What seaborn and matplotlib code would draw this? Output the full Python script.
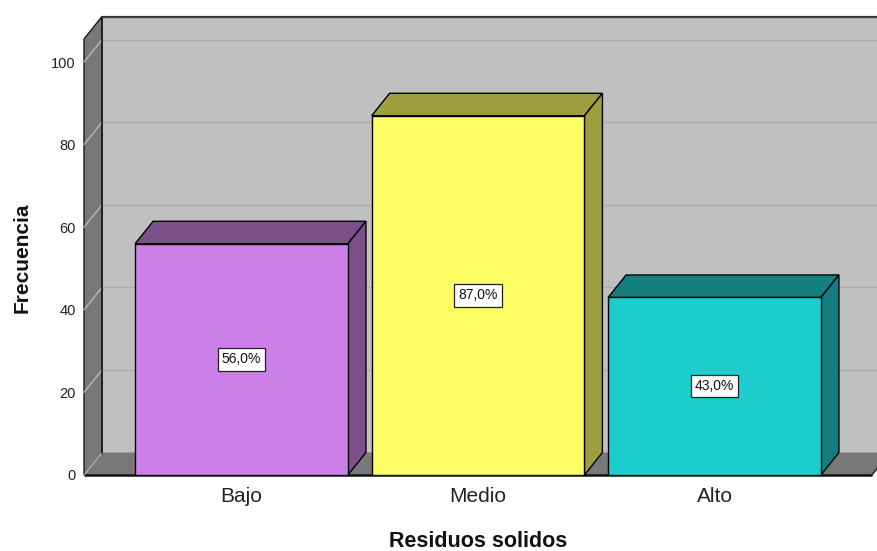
import matplotlib
matplotlib.use("Agg")
import matplotlib.pyplot as plt
from matplotlib.patches import Polygon
import seaborn as sns
import pandas as pd

# Data
categories = ["Bajo", "Medio", "Alto"]
counts = [56, 87, 43]
y_ticks = [0, 20, 40, 60, 80, 100]

# Colours: front face and shaded (top / side) face of each bar
front_colors = ["#CC7FE6", "#FFFF66", "#1DCDCD"]
shade_colors = ["#7C4F8B", "#9E9E3E", "#137F7F"]

sns.set_theme(style="white")
plt.rcParams["font.family"] = ["Liberation Sans", "DejaVu Sans"]

W, H = 877, 551
fig = plt.figure(figsize=(W / 100, H / 100), dpi=100)
ax_left, ax_right, ax_bottom, ax_top = 84, 872, 475, 39
ax = fig.add_axes([ax_left / W, (H - ax_bottom) / H,
                   (ax_right - ax_left) / W, (ax_bottom - ax_top) / H])

df = pd.DataFrame({"nivel": categories, "frecuencia": counts})
sns.barplot(data=df, x="nivel", y="frecuencia", hue="nivel",
            palette=front_colors, width=0.9, edgecolor="black",
            linewidth=1.0, legend=False, ax=ax, zorder=5, saturation=1)

xmin, xmax = -0.666, 2.666
ymin, ymax = 0, 105.6
ax.set_xlim(xmin, xmax)
ax.set_ylim(ymin, ymax)

# depth of the 3D effect, in pixels, converted to data units
DX_PX, DY_PX = 18, 22.5
dx = DX_PX * (xmax - xmin) / (ax_right - ax_left)
dy = DY_PX * (ymax - ymin) / (ax_bottom - ax_top)

wall_gray = "#C0C0C0"
dark_gray = "#787878"

# back wall
ax.add_patch(Polygon([(xmin + dx, dy), (xmax + dx, dy), (xmax + dx, ymax + dy),
                      (xmin + dx, ymax + dy)], closed=True, facecolor=wall_gray,
                     edgecolor="none", zorder=0.5, clip_on=False))
ax.plot([xmin + dx, xmax + dx + 1], [ymax + dy, ymax + dy], color="#3a3a3a",
        lw=1.6, zorder=0.9, clip_on=False, solid_capstyle="butt")
# grid lines on back wall
for t in y_ticks[1:]:
    ax.plot([xmin + dx, xmax + dx + 1], [t + dy, t + dy], color="#ABABAB",
            lw=1.0, zorder=0.6, clip_on=False)
# left wall
ax.add_patch(Polygon([(xmin, 0), (xmin, ymax), (xmin + dx, ymax + dy),
                      (xmin + dx, dy)], closed=True, facecolor=dark_gray,
                     edgecolor="#1a1a1a", lw=1.0, zorder=0.7, clip_on=False))
# floor
ax.add_patch(Polygon([(xmin, 0), (xmax, 0), (xmax + dx, dy), (xmin + dx, dy)],
                     closed=True, facecolor=dark_gray, edgecolor="none",
                     zorder=0.7, clip_on=False))
ax.plot([xmax, xmax + dx], [0, dy], color="#1a1a1a", lw=1.0, zorder=0.8,
        clip_on=False)
ax.plot([xmin + dx, xmin + dx], [dy, ymax + dy], color="#1a1a1a", lw=1.2,
        zorder=0.85, clip_on=False)
# diagonals across the side wall at each tick
for t in y_ticks:
    ax.plot([xmin, xmin + dx], [t, t + dy], color="#BDBDBD", lw=0.9,
            zorder=0.8, clip_on=False)
ax.plot([xmin, xmax], [0, 0], color="#111111", lw=1.8, zorder=0.9,
        clip_on=False, solid_capstyle="butt")

# shaded top and side faces of each bar, plus value labels
bars = [p for c in ax.containers for p in c]
for bar, shade, v in zip(bars, shade_colors, counts):
    x0 = bar.get_x()
    x1 = x0 + bar.get_width()
    h = bar.get_height()
    ax.add_patch(Polygon([(x0, h), (x1, h), (x1 + dx, h + dy), (x0 + dx, h + dy)],
                         closed=True, facecolor=shade, edgecolor="black",
                         lw=1.0, zorder=4, clip_on=False))
    ax.add_patch(Polygon([(x1, 0), (x1, h), (x1 + dx, h + dy), (x1 + dx, dy)],
                         closed=True, facecolor=shade, edgecolor="black",
                         lw=1.0, zorder=4, clip_on=False))
    ax.text(x0 + bar.get_width() / 2, h / 2, f"{v:.1f}%".replace(".", ","),
            ha="center", va="center", fontsize=10, color="#111111", zorder=6,
            bbox=dict(boxstyle="square,pad=0.3", facecolor="white",
                      edgecolor="#222222", lw=0.9))

for s in ax.spines.values():
    s.set_visible(False)
ax.set_facecolor("none")
ax.grid(False)
ax.set_yticks(y_ticks)
ax.set_yticklabels([str(t) for t in y_ticks])
ax.tick_params(axis="y", length=0, pad=6, labelsize=10.5, labelcolor="#222222")
ax.tick_params(axis="x", length=0, pad=9, labelsize=15, labelcolor="#222222")

ax.set_xlabel("Residuos solidos", fontsize=15.5, fontweight="bold",
              color="#111111")
ax.set_ylabel("Frecuencia", fontsize=15, fontweight="bold", color="#111111")
ax.xaxis.set_label_coords(0.5, -0.128)
ax.yaxis.set_label_coords(-0.066, (ax_bottom - 258) / (ax_bottom - ax_top))

fig.savefig("out.png", dpi=100, facecolor="white")
